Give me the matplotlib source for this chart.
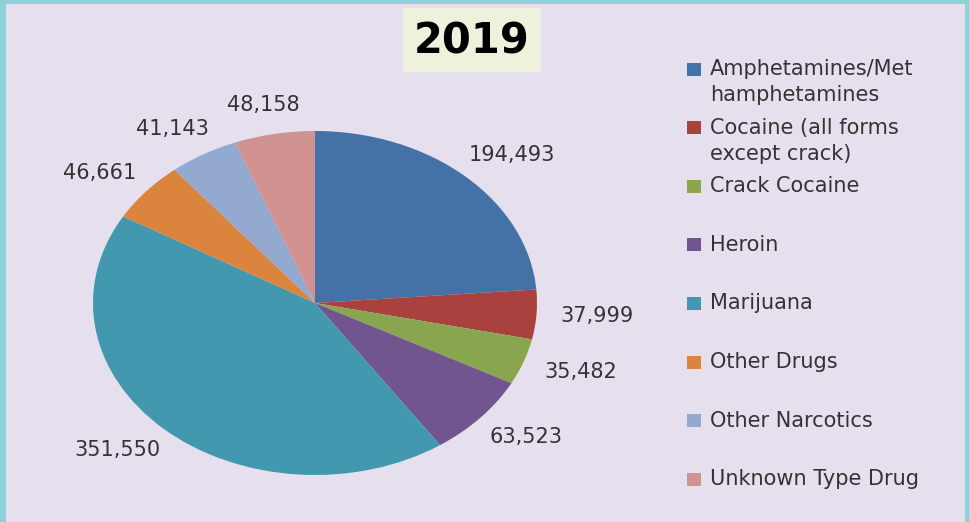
import numpy as np
import matplotlib
matplotlib.use("Agg")
from matplotlib import pyplot as plt
from matplotlib import patches

categories = [
    "Amphetamines/Met\nhamphetamines",
    "Cocaine (all forms\nexcept crack)",
    "Crack Cocaine",
    "Heroin",
    "Marijuana",
    "Other Drugs",
    "Other Narcotics",
    "Unknown Type Drug",
]
values = [194493, 37999, 35482, 63523, 351550, 46661, 41143, 48158]
colours = ["#4471a6", "#a9423f", "#89a64e", "#71558f",
           "#4198af", "#db843d", "#93a9cf", "#d19392"]
title = "2019"

W, H = 969, 522
fig = plt.figure(figsize=(W / 100, H / 100), dpi=100)
fig.patch.set_facecolor("#8fd0d9")

# inner lavender panel
fig.patches.append(patches.Rectangle((6 / W, 0), (965 - 6) / W, (H - 4) / H,
                                     transform=fig.transFigure, facecolor="#e6e0ee",
                                     edgecolor="none", zorder=-5))

text_colour = "#333333"

# pie axes: ellipse centre (315, 303), radii 222 x 172 px
cx, cy, rx, ry = 315, 303, 222, 172
ax = fig.add_axes([(cx - rx) / W, (H - cy - ry) / H, 2 * rx / W, 2 * ry / H])
ax.set_zorder(3)
ax.patch.set_alpha(0)
wedges, _ = ax.pie(values, colors=colours, startangle=90, counterclock=False,
                   radius=1, wedgeprops=dict(linewidth=0))
ax.set_aspect("auto")
ax.set_xlim(-1, 1)
ax.set_ylim(-1, 1)
ax.axis("off")

# outside-end labels: anchor on a slightly larger ellipse, pushed out by half the text box
renderer = fig.canvas.get_renderer()
k = 1.11
for w, v in zip(wedges, values):
    mid = np.deg2rad((w.theta1 + w.theta2) / 2)
    c, s = np.cos(mid), np.sin(mid)
    t = ax.annotate(f"{v:,}", xy=(k * c, k * s), xytext=(0, 0), textcoords="offset pixels",
                    ha="center", va="center", fontsize=15, color=text_colour,
                    annotation_clip=False)
    bb = t.get_window_extent(renderer)
    t.set_position((bb.width / 2 * c, bb.height / 2 * s))

# title with box
fig.patches.append(patches.Rectangle((403 / W, (H - 72) / H), 138 / W, 64 / H,
                                     transform=fig.transFigure, facecolor="#eef1dc",
                                     edgecolor="none", zorder=1))
fig.text(472 / W, (H - 41) / H, title, ha="center", va="center", fontsize=30,
         fontweight="bold", color="black", zorder=2)

# legend
for i, (cat, col) in enumerate(zip(categories, colours)):
    y = 69 + 58.6 * i
    fig.patches.append(patches.Rectangle((687 / W, (H - y - 6.5) / H), 14 / W, 13 / H,
                                         transform=fig.transFigure, facecolor=col,
                                         edgecolor="none", zorder=1))
    fig.text(710 / W, (H - y + 10) / H, cat, ha="left", va="top", fontsize=15,
             color=text_colour, linespacing=1.4, zorder=2)

fig.savefig("out.png", dpi=100, facecolor=fig.get_facecolor())
